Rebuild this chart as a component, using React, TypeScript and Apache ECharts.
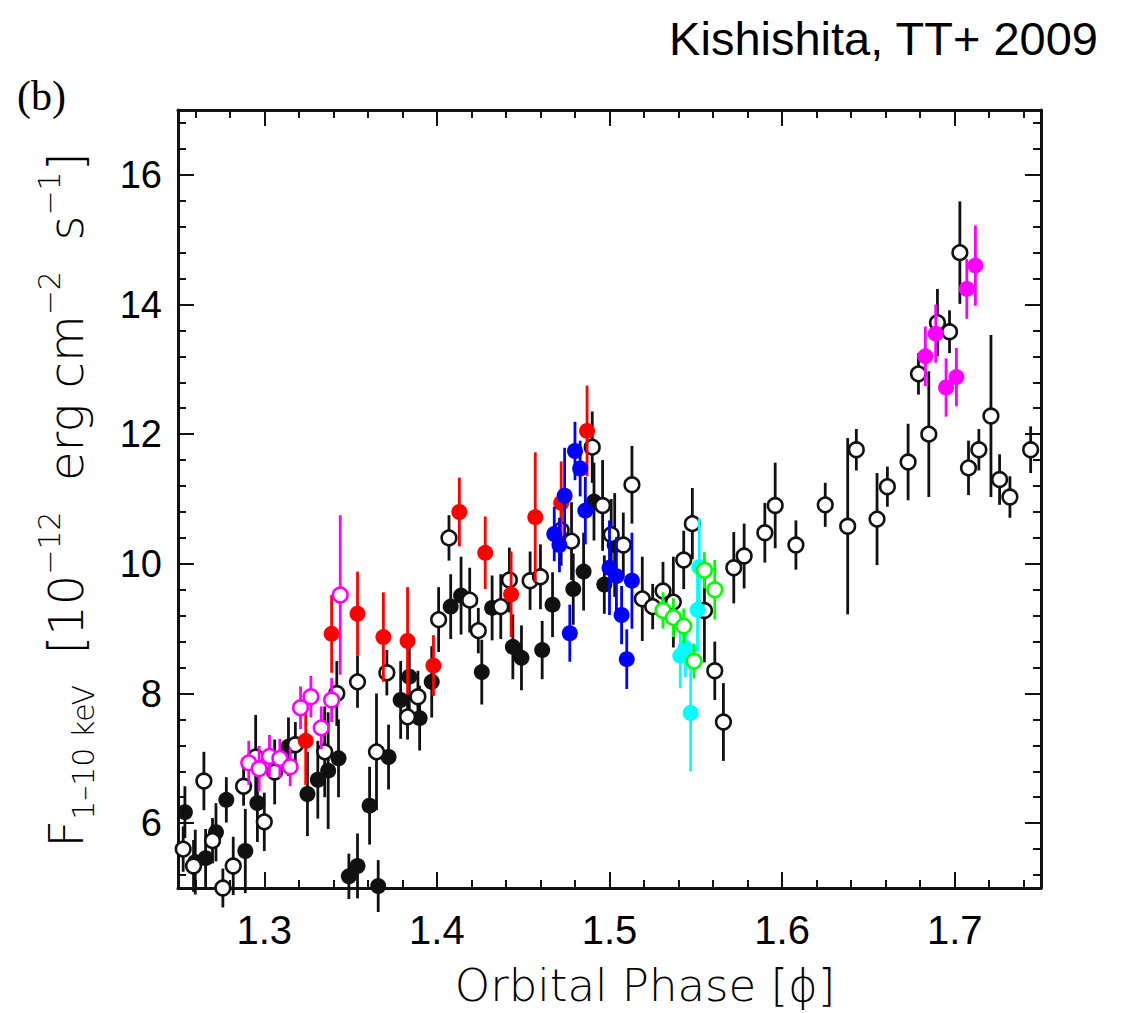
import React, { useEffect, useRef } from "react";
import * as echarts from "echarts";

// 1–10 keV flux against orbital phase, one array triple per observation set
const xMajorTicks = [1.3, 1.4, 1.5, 1.6, 1.7];
const yMajorTicks = [6, 8, 10, 12, 14, 16];

const blackFilledPhase = [1.254, 1.26, 1.266, 1.272, 1.278, 1.289, 1.296, 1.314, 1.325, 1.331, 1.337, 1.343, 1.349, 1.354, 1.361, 1.366, 1.372, 1.379, 1.384, 1.39, 1.397, 1.408, 1.414, 1.426, 1.432, 1.444, 1.449, 1.461, 1.467, 1.479, 1.485, 1.491, 1.497, 1.503];
const blackFilledFlux = [6.17, 5.4, 5.46, 5.86, 6.36, 5.57, 6.31, 7.18, 6.45, 6.67, 6.81, 7.0, 5.18, 5.34, 6.27, 5.03, 7.02, 7.9, 8.26, 7.62, 8.18, 9.34, 9.51, 8.33, 9.32, 8.72, 8.55, 8.67, 9.37, 9.61, 9.88, 10.96, 9.68, 10.29];
const blackFilledErr = [0.4, 0.5, 0.45, 0.45, 0.35, 0.65, 0.6, 0.45, 0.65, 0.6, 0.9, 0.6, 0.35, 0.5, 0.6, 0.4, 0.5, 0.6, 0.55, 0.5, 0.55, 0.5, 0.6, 0.5, 0.5, 0.5, 0.5, 0.45, 0.5, 0.55, 0.6, 0.6, 0.45, 0.8];

const blackOpenPhase = [1.253, 1.259, 1.265, 1.27, 1.276, 1.282, 1.288, 1.295, 1.3, 1.306, 1.318, 1.335, 1.342, 1.354, 1.365, 1.371, 1.383, 1.389, 1.401, 1.407, 1.419, 1.424, 1.437, 1.442, 1.454, 1.46, 1.472, 1.478, 1.49, 1.496, 1.501, 1.508, 1.513, 1.519, 1.525, 1.531, 1.537, 1.543, 1.548, 1.555, 1.561, 1.566, 1.572, 1.578, 1.59, 1.596, 1.608, 1.625, 1.638, 1.643, 1.655, 1.661, 1.673, 1.679, 1.685, 1.69, 1.697, 1.703, 1.708, 1.714, 1.721, 1.726, 1.732, 1.744];
const blackOpenFlux = [5.6, 5.34, 6.65, 5.73, 5.0, 5.34, 6.57, 7.02, 6.02, 6.79, 7.21, 7.1, 8.0, 8.18, 7.1, 8.32, 7.64, 7.95, 9.14, 10.4, 9.44, 8.97, 9.34, 9.75, 9.74, 9.8, 10.52, 10.35, 11.8, 10.9, 10.45, 10.29, 11.22, 9.46, 9.34, 9.58, 9.41, 10.06, 10.62, 9.28, 8.35, 7.56, 9.94, 10.12, 10.48, 10.9, 10.29, 10.91, 10.58, 11.76, 10.69, 11.19, 11.57, 12.93, 12.0, 13.72, 13.58, 14.8, 11.48, 11.76, 12.28, 11.3, 11.03, 11.76];
const blackOpenErr = [0.35, 0.4, 0.45, 0.35, 0.3, 0.45, 0.3, 0.65, 0.45, 0.5, 0.35, 0.7, 0.5, 0.4, 0.9, 0.35, 0.35, 0.4, 0.5, 0.35, 0.5, 0.35, 0.5, 0.5, 0.45, 0.5, 0.55, 0.6, 0.55, 0.7, 0.55, 0.5, 0.6, 0.65, 0.35, 0.45, 0.7, 0.45, 0.55, 0.8, 0.45, 0.6, 0.55, 0.5, 0.46, 0.66, 0.38, 0.34, 1.36, 0.32, 0.71, 0.31, 0.59, 0.32, 0.97, 0.52, 0.33, 0.79, 0.42, 0.32, 1.25, 0.39, 0.32, 0.36];

const redPhase = [1.324, 1.339, 1.354, 1.369, 1.383, 1.398, 1.413, 1.428, 1.443, 1.457, 1.472, 1.487];
const redFlux = [7.27, 8.92, 9.23, 8.87, 8.81, 8.43, 10.8, 10.17, 9.53, 10.72, 10.94, 12.05];
const redErr = [0.68, 0.6, 0.65, 0.69, 0.83, 0.47, 0.53, 0.56, 0.66, 1.0, 0.64, 0.7];

const bluePhase = [1.468, 1.471, 1.474, 1.477, 1.48, 1.483, 1.486, 1.5, 1.504, 1.507, 1.51, 1.513];
const blueFlux = [10.46, 10.29, 11.05, 8.93, 11.74, 11.47, 10.82, 9.94, 9.81, 9.21, 8.53, 9.74];
const blueErr = [0.42, 0.42, 0.74, 0.44, 0.45, 0.43, 0.52, 0.73, 0.6, 0.45, 0.46, 0.74];

const magentaOpenPhase = [1.291, 1.297, 1.303, 1.309, 1.315, 1.321, 1.327, 1.333, 1.339, 1.344];
const magentaOpenFlux = [6.93, 6.84, 7.03, 7.0, 6.87, 7.78, 7.95, 7.47, 7.9, 9.52];
const magentaOpenErr = [0.34, 0.35, 0.33, 0.3, 0.3, 0.33, 0.32, 0.33, 0.34, 1.23];

const magentaFilledPhase = [1.683, 1.689, 1.695, 1.701, 1.707, 1.712];
const magentaFilledFlux = [13.2, 13.55, 12.72, 12.88, 14.24, 14.6];
const magentaFilledErr = [0.46, 0.45, 0.45, 0.45, 0.46, 0.62];

const cyanPhase = [1.541, 1.544, 1.547, 1.551, 1.552];
const cyanFlux = [8.58, 8.7, 7.7, 9.29, 9.95];
const cyanErr = [0.5, 0.45, 0.9, 0.65, 0.75];

const greenOpenPhase = [1.531, 1.537, 1.543, 1.549, 1.555, 1.561];
const greenOpenFlux = [9.28, 9.17, 9.04, 8.5, 9.9, 9.6];
const greenOpenErr = [0.28, 0.3, 0.27, 0.27, 0.28, 0.46];

const INK = "#111111";

// minor ticks: every 0.02 in phase, every 0.4 in flux
function xMinorTicks(): number[] {
  const out: number[] = [];
  for (let k = 126; k <= 174; k += 2) if (k % 10 !== 0) out.push(k / 100);
  return out;
}
function yMinorTicks(): number[] {
  const out: number[] = [];
  for (let k = 52; k <= 168; k += 4) if (k % 20 !== 0) out.push(k / 10);
  return out;
}

function zip(p: number[], f: number[], e: number[]) {
  return p.map((v, i) => [v, f[i], e[i]]);
}

// vertical error bar with a filled or hollow circle on top
function errSeries(name: string, data: number[][], color: string, open: boolean) {
  return {
    name,
    type: "custom",
    xAxisIndex: 0,
    yAxisIndex: 0,
    data,
    clip: false,
    renderItem: (_params: any, api: any) => {
      const x = api.value(0);
      const y = api.value(1);
      const e = api.value(2);
      const c = api.coord([x, y]);
      const hi = api.coord([x, y + e]);
      const lo = api.coord([x, y - e]);
      return {
        type: "group",
        children: [
          {
            type: "line",
            shape: { x1: c[0], y1: hi[1], x2: c[0], y2: lo[1] },
            style: { stroke: color, lineWidth: 2.8 },
          },
          {
            type: "circle",
            shape: { cx: c[0], cy: c[1], r: open ? 7.3 : 8 },
            style: open
              ? { fill: "#ffffff", stroke: color, lineWidth: 2.6 }
              : { fill: color, stroke: "none" },
          },
        ],
      };
    },
  };
}

function xAxisCfg(position: "top" | "bottom", values: number[], len: number, labels: boolean, line: boolean) {
  return {
    type: "value",
    min: 1.25,
    max: 1.75,
    position,
    gridIndex: 0,
    splitLine: { show: false },
    axisLine: { show: line, onZero: false, lineStyle: { color: INK, width: 3 } },
    axisTick: { show: true, inside: true, length: len, customValues: values, lineStyle: { color: INK, width: 2 } },
    axisLabel: labels
      ? {
          show: true,
          customValues: values,
          formatter: (v: number) => v.toFixed(1),
          margin: 22,
          color: "#000",
          fontSize: 40,
          fontFamily: "Liberation Sans Narrow, Liberation Sans",
        }
      : { show: false },
  };
}

function yAxisCfg(position: "left" | "right", values: number[], len: number, labels: boolean, line: boolean) {
  return {
    type: "value",
    min: 5,
    max: 17,
    position,
    gridIndex: 0,
    splitLine: { show: false },
    axisLine: { show: line, onZero: false, lineStyle: { color: INK, width: 3 } },
    axisTick: { show: true, inside: true, length: len, customValues: values, lineStyle: { color: INK, width: 2 } },
    axisLabel: labels
      ? {
          show: true,
          customValues: values,
          formatter: (v: number) => String(v),
          margin: 16,
          color: "#000",
          fontSize: 38,
          fontFamily: "Liberation Sans",
        }
      : { show: false },
  };
}

export default function App() {
  const ref = useRef<HTMLDivElement>(null);

  useEffect(() => {
    if (!ref.current) return;
    const chart = echarts.init(ref.current, null, { renderer: "svg" });
    const xm = xMinorTicks();
    const ym = yMinorTicks();

    chart.setOption({
      animation: false,
      backgroundColor: "#ffffff",
      grid: { left: 178, top: 110, width: 863, height: 778, containLabel: false },
      xAxis: [
        xAxisCfg("bottom", xMajorTicks, 16, true, true),
        xAxisCfg("bottom", xm, 8, false, false),
        xAxisCfg("top", xMajorTicks, 16, false, true),
        xAxisCfg("top", xm, 8, false, false),
      ],
      yAxis: [
        yAxisCfg("left", yMajorTicks, 16, true, true),
        yAxisCfg("left", ym, 8, false, false),
        yAxisCfg("right", yMajorTicks, 16, false, true),
        yAxisCfg("right", ym, 8, false, false),
      ],
      series: [
        errSeries("black filled", zip(blackFilledPhase, blackFilledFlux, blackFilledErr), INK, false),
        errSeries("black open", zip(blackOpenPhase, blackOpenFlux, blackOpenErr), INK, true),
        errSeries("red", zip(redPhase, redFlux, redErr), "#ff0000", false),
        errSeries("blue", zip(bluePhase, blueFlux, blueErr), "#0000ff", false),
        errSeries("magenta open", zip(magentaOpenPhase, magentaOpenFlux, magentaOpenErr), "#ff00ff", true),
        errSeries("magenta filled", zip(magentaFilledPhase, magentaFilledFlux, magentaFilledErr), "#ff00ff", false),
        errSeries("cyan", zip(cyanPhase, cyanFlux, cyanErr), "#00ffff", false),
        errSeries("green open", zip(greenOpenPhase, greenOpenFlux, greenOpenErr), "#00ff00", true),
      ],
      graphic: [
        {
          type: "text",
          x: 1098,
          y: 38,
          style: {
            text: "Kishishita, TT+ 2009",
            fill: "#000",
            font: "47px 'Liberation Sans'",
            textAlign: "right",
            textVerticalAlign: "middle",
          },
        },
        {
          type: "text",
          x: 17,
          y: 96,
          style: {
            text: "(b)",
            fill: "#000",
            font: "42px 'Liberation Serif'",
            textAlign: "left",
            textVerticalAlign: "middle",
          },
        },
        {
          type: "text",
          x: 645,
          y: 985,
          style: {
            text: "Orbital Phase [\u03d5]",
            fill: "#000",
            font: "300 45px 'DejaVu Sans'",
            textAlign: "center",
            textVerticalAlign: "middle",
          },
        },
        {
          type: "text",
          x: 66,
          y: 500,
          rotation: Math.PI / 2,
          style: {
            text:
              "{m|F}{sub|1\u201310 keV}{m|  [10}{sup|\u221212}{m|  erg cm}{sup|\u22122}{m|  s}{sup|\u22121}{m|]}",
            fill: "#000",
            textAlign: "center",
            textVerticalAlign: "middle",
            rich: {
              m: { fontSize: 48, fontFamily: "DejaVu Sans", fontWeight: 300, lineHeight: 64, verticalAlign: "middle", fill: "#000" },
              sup: { fontSize: 30, fontFamily: "DejaVu Sans", fontWeight: 300, lineHeight: 20, verticalAlign: "top", fill: "#000" },
              sub: { fontSize: 30, fontFamily: "DejaVu Sans", fontWeight: 300, lineHeight: 36, verticalAlign: "bottom", fill: "#000" },
            },
          },
        },
      ],
    });

    return () => chart.dispose();
  }, []);

  return (
    <div
      ref={ref}
      style={{ position: "fixed", left: 0, top: 0, width: 1129, height: 1013, background: "#fff" }}
    />
  );
}
